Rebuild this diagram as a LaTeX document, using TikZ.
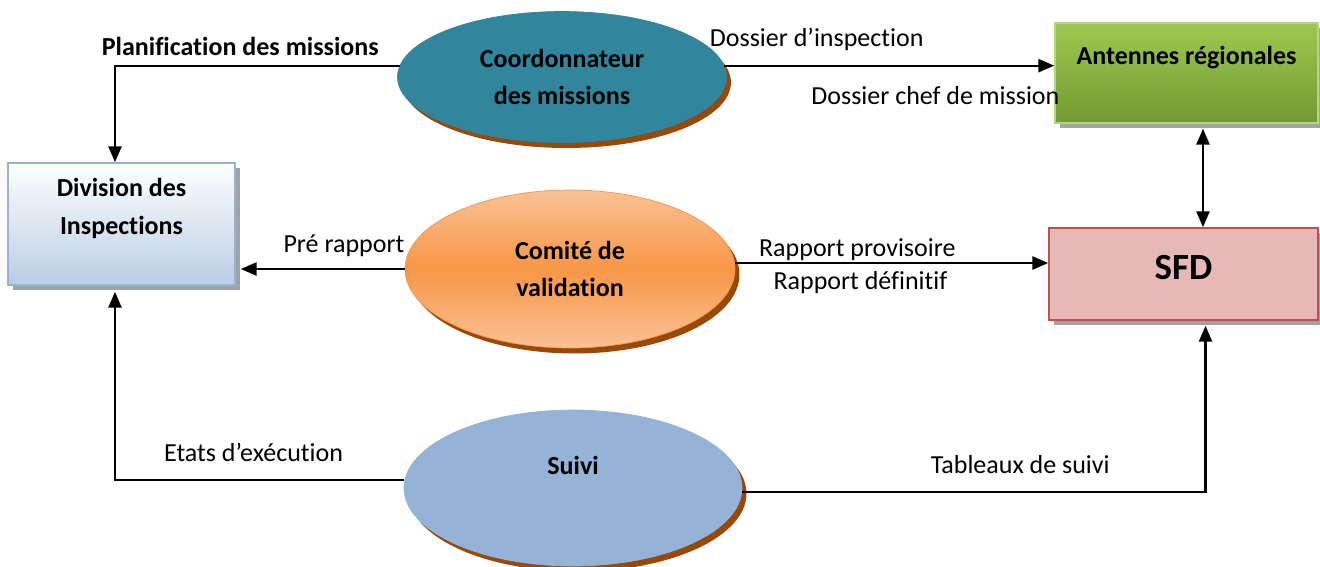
\documentclass[tikz,border=0pt]{standalone}
\usepackage{fontspec}
\setmainfont{Carlito}[Ligatures=NoCommon]
\usepackage{tikz}
\usetikzlibrary{arrows.meta,shapes.geometric,shadows}

\definecolor{bleuCanard}{HTML}{31859C}
\definecolor{ombreBrune}{HTML}{984807}
\definecolor{ombreGrise}{HTML}{A3A3A3}
\definecolor{orangeVif}{HTML}{F79646}
\definecolor{orangeClair}{HTML}{FAC296}
\definecolor{bleuSuivi}{HTML}{95B3D7}
\definecolor{bleuDiv}{HTML}{B9CDE5}
\definecolor{bleuBord}{HTML}{95B3D7}
\definecolor{vertClair}{HTML}{9DC950}
\definecolor{vertFonce}{HTML}{6F9B32}
\definecolor{vertBord}{HTML}{B5D67A}
\definecolor{roseSFD}{HTML}{E6B9B8}
\definecolor{rougeSFD}{HTML}{C0504D}

\begin{document}
\begin{tikzpicture}[
    x=0.02cm, y=-0.02cm,
    >={Triangle[length=9pt,width=7.5pt]},
    flux/.style={->, line width=1.15pt, black},
    etiq/.style={inner sep=0pt, font=\fontsize{14.8}{18}\selectfont},
    etiqgras/.style={inner sep=0pt, font=\bfseries\fontsize{14.8}{18}\selectfont},
    ovale/.style={
        ellipse,
        inner sep=0pt,
        align=center,
        font=\bfseries\fontsize{14.8}{21.5}\selectfont,
        drop shadow={shadow xshift=0.09cm, shadow yshift=-0.11cm,
            fill=ombreBrune, opacity=1}
    },
    boite/.style={
        rectangle,
        inner sep=0pt,
        align=center,
        line width=1pt,
        font=\bfseries\fontsize{14.8}{21.5}\selectfont,
        drop shadow={shadow xshift=0.1cm, shadow yshift=-0.1cm,
            fill=ombreGrise, opacity=1}
    }
]

\useasboundingbox (0,0) rectangle (1320,566);


% Ovales

\node[
    ovale,
    fill=bleuCanard,
    draw=bleuCanard,
    minimum width=6.58cm,
    minimum height=2.62cm
] (coord) at (562,77) {Coordonnateur\\des missions};

\node[
    ovale,
    shading=axis,
    top color=orangeClair,
    bottom color=orangeClair,
    middle color=orangeVif,
    draw=orangeVif,
    minimum width=6.6cm,
    minimum height=3.16cm
] (com) at (570,269) {Comité de\\validation};

\node[
    ovale,
    fill=bleuSuivi,
    draw=bleuSuivi,
    minimum width=6.76cm,
    minimum height=3.12cm,
    text depth=0.92cm
] (suivi) at (573,488) {Suivi};


% Boîtes

\node[
    boite,
    top color=white,
    bottom color=bleuDiv,
    draw=bleuBord,
    minimum width=4.54cm,
    minimum height=2.44cm,
    text depth=0.71cm
] (div) at (121.5,224) {Division des\\Inspections};

\node[
    boite,
    top color=vertClair,
    bottom color=vertFonce,
    draw=vertBord,
    minimum width=5.26cm,
    minimum height=2cm,
    text depth=0.71cm
] (ant) at (1186.5,73) {Antennes régionales};

\node[
    boite,
    fill=roseSFD,
    draw=rougeSFD,
    minimum width=5.38cm,
    minimum height=1.84cm,
    text depth=0.28cm,
    font=\bfseries\fontsize{21}{25}\selectfont
] (sfd) at (1183.5,274) {SFD};


% Planification des missions

\draw[flux] (coord.176) -| ([xshift=-0.13cm]div.north)
    node[pos=0.28, above=0.18cm, etiqgras] {Planification des missions};


% Dossiers vers les antennes

\draw[flux] (coord.4) -- (coord.4 -| ant.west)
    node[pos=0.28, above=0.28cm, etiq] {Dossier d’inspection}
    node[pos=0.64, below=0.4cm, etiq] {Dossier chef de mission};


% Antennes et SFD

\coordinate (antB) at ([xshift=0.33cm]ant.south);
\draw[flux, <->, shorten <=0.1cm] (antB) -- (antB |- sfd.north);


% Pré rapport

\draw[flux, shorten >=0.1cm] (com.west) -- (com.west -| div.east)
    node[pos=0.36, above=0.22cm, etiq] {Pré rapport};


% Rapports vers le SFD

\coordinate (comD) at ([yshift=0.12cm]com.east);
\draw[flux] (comD) -- (comD -| sfd.west)
    node[pos=0.39, above=0.02cm, etiq] {Rapport provisoire}
    node[pos=0.40, below=0.14cm, etiq] {Rapport définitif};


% Suivi

\coordinate (suiG) at ([yshift=0.16cm]suivi.west);
\draw[flux, shorten >=0.12cm] (suiG) -| ([xshift=-0.13cm]div.south)
    node[pos=0.26, above=0.34cm, etiq] {Etats d’exécution};

\coordinate (suiD) at ([yshift=-0.08cm]suivi.east);
\draw[flux, shorten >=0.1cm] (suiD) -| ([xshift=0.44cm]sfd.south)
    node[pos=0.30, above=0.34cm, etiq] {Tableaux de suivi};

\end{tikzpicture}
\end{document}
